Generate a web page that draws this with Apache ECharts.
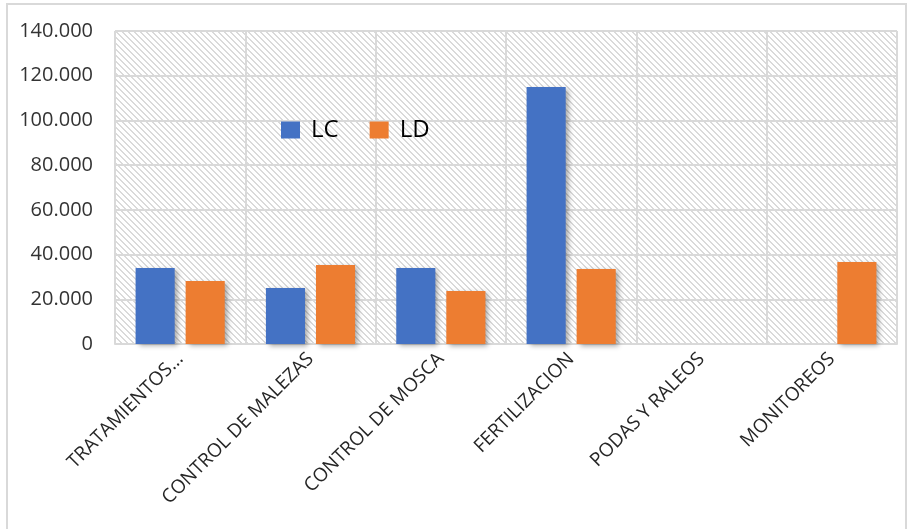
<!DOCTYPE html>
<html>
<head>
<meta charset="utf-8">
<script src="https://cdn.jsdelivr.net/npm/echarts@6/dist/echarts.min.js"></script>
<style>
  html, body { margin: 0; padding: 0; background: #fff; }
  #chart { width: 912px; height: 529px; }
  #frame {
    position: absolute; left: 6px; top: 3px; width: 897px; height: 540px;
    border: 2px solid #d9d9d9; pointer-events: none;
  }
</style>
</head>
<body>
<div id="chart"></div>
<div id="frame"></div>
<script>
const categories = ['TRATAMIENTOS...', 'CONTROL DE MALEZAS', 'CONTROL DE MOSCA', 'FERTILIZACION', 'PODAS Y RALEOS', 'MONITOREOS'];
const lcValues = [34000, 25000, 34000, 115000, 0, 0];
const ldValues = [28200, 35300, 23700, 33500, 0, 36700];
const seriesNames = ['LC', 'LD'];
const colors = ['#4472C4', '#ED7D31'];

// hatched plot background, pixel pattern like the office "wide diagonal" fill
function makeHatch() {
  const size = 6;
  const c = document.createElement('canvas');
  c.width = size; c.height = size;
  const ctx = c.getContext('2d');
  ctx.fillStyle = '#ffffff';
  ctx.fillRect(0, 0, size, size);
  ctx.fillStyle = '#dadada';
  for (let y = 0; y < size; y++) {
    for (let x = 0; x < size; x++) {
      const d = ((x - y) % size + size) % size;
      if (d === 0 || d === 1) ctx.fillRect(x, y, 1, 1);
    }
  }
  return c;
}

const fmt = v => String(v).replace(/\B(?=(\d{3})+(?!\d))/g, '.');

const chart = echarts.init(document.getElementById('chart'), null, { renderer: 'canvas' });

const barShadow = {
  shadowBlur: 5,
  shadowColor: 'rgba(0,0,0,0.35)',
  shadowOffsetX: 3,
  shadowOffsetY: 2
};

chart.setOption({
  animation: false,
  textStyle: { fontFamily: '"Open Sans", sans-serif' },
  grid: {
    left: 115, right: 15, top: 31, bottom: 185,
    show: true,
    borderWidth: 0,
    backgroundColor: { image: makeHatch(), repeat: 'repeat' }
  },
  legend: {
    data: seriesNames,
    left: 276, top: 113,
    icon: 'rect',
    itemWidth: 19, itemHeight: 17,
    itemGap: 31,
    textStyle: { fontSize: 24, color: '#000', padding: [0, 0, 0, 6] }
  },
  xAxis: {
    type: 'category',
    data: categories,
    axisLine: { lineStyle: { color: '#d9d9d9', width: 2 } },
    axisTick: { show: false },
    splitLine: { show: true, lineStyle: { color: '#d9d9d9', width: 2 } },
    axisLabel: { rotate: 45, fontSize: 19, color: '#262626', margin: 12, interval: 0 }
  },
  yAxis: {
    type: 'value',
    min: 0, max: 140000, interval: 20000,
    axisLine: { show: false },
    axisTick: { show: false },
    splitLine: { lineStyle: { color: '#d9d9d9', width: 2 } },
    axisLabel: { fontSize: 20, color: '#333', margin: 22, formatter: fmt }
  },
  series: [
    {
      name: seriesNames[0], type: 'bar', data: lcValues,
      barWidth: '30%', barGap: '28%',
      itemStyle: Object.assign({ color: colors[0] }, barShadow)
    },
    {
      name: seriesNames[1], type: 'bar', data: ldValues,
      barWidth: '30%', barGap: '28%',
      itemStyle: Object.assign({ color: colors[1] }, barShadow)
    }
  ]
});
</script>
</body>
</html>
